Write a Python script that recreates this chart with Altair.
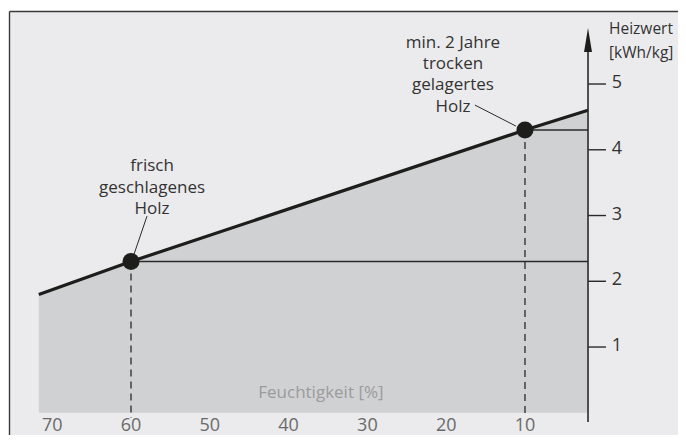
import altair as alt
import pandas as pd

# ---- data ----
moisture = [71.7, 60, 10, 2]          # Feuchtigkeit [%]
heat = [1.8, 2.3, 4.3, 4.6]           # Heizwert [kWh/kg]
marked_x = [60, 10]
marked_y = [2.3, 4.3]
x_ticks = [70, 60, 50, 40, 30, 20, 10]
y_ticks = [1, 2, 3, 4, 5]
axis_x = 2

ann1_lines = ["frisch", "geschlagenes", "Holz"]
ann1_y = [3.75, 3.42, 3.10]
ann1_x = 57.33
ann2_lines = ["min. 2 Jahre", "trocken", "gelagertes", "Holz"]
ann2_y = [5.62, 5.30, 4.98, 4.65]
ann2_x = 19.14
leader_x = [57.97, 16.35]
leader_y = [2.99, 4.68]
leader_x2 = [59.62, 11.14]
leader_y2 = [2.41, 4.36]
yunit_lines = ["Heizwert", "[kWh/kg]"]
yunit_y = [5.837, 5.472]

FONT = "Open Sans"
DARK = "#1d1d1b"
W, H = 668.5, 423.5

xs = alt.Scale(domain=[-9.42, 75.42], reverse=True, nice=False, zero=False)
ys = alt.Scale(domain=[-0.338, 6.103], nice=False, zero=False)


def X(f):
    return alt.X(f, type="quantitative", scale=xs, axis=None)


def Y(f):
    return alt.Y(f, type="quantitative", scale=ys, axis=None)


curve = pd.DataFrame({"m": moisture, "h": heat})
marks = pd.DataFrame({"m": marked_x, "h": marked_y, "ax": [axis_x] * 2, "bottom": [-0.08] * 2})

area = alt.Chart(curve).mark_area(color="#d0d1d3", orient="vertical").encode(
    x=X("m"), y=Y("h"), y2=alt.datum(0)
)
line = alt.Chart(curve).mark_line(color=DARK, strokeWidth=3.2).encode(x=X("m"), y=Y("h"))

hrules = alt.Chart(marks).mark_rule(color="#2a2a2a", strokeWidth=1.6).encode(
    x=X("m"), x2="ax", y=Y("h")
)
vdash = alt.Chart(marks).mark_rule(color="#2a2a2a", strokeWidth=1.3, strokeDash=[7, 5]).encode(
    x=X("m"), y=Y("h"), y2="bottom"
)
dots = alt.Chart(marks).mark_circle(size=290, color=DARK, opacity=1).encode(x=X("m"), y=Y("h"))

axis_df = pd.DataFrame({"x": [axis_x], "y": [-0.141], "y2": [5.59], "ya": [5.669]})
yaxis = alt.Chart(axis_df).mark_rule(color="#2a2a2a", strokeWidth=1.6).encode(
    x=X("x"), y=Y("y"), y2="y2"
)
arrow = alt.Chart(axis_df).mark_point(
    shape="M0,-1L0.33,1L-0.33,1Z", filled=True, size=576, color=DARK, opacity=1, strokeWidth=0
).encode(x=X("x"), y=Y("ya"))

yt = pd.DataFrame({"v": y_ticks, "x0": [axis_x] * 5, "x1": [-0.28] * 5, "xl": [-1.0] * 5,
                   "t": [str(v) for v in y_ticks]})
ytick_rules = alt.Chart(yt).mark_rule(color="#2a2a2a", strokeWidth=1.4).encode(
    x=X("x0"), x2="x1", y=Y("v")
)
ytick_labels = alt.Chart(yt).mark_text(
    font=FONT, fontSize=18, color="#333333", align="left", baseline="middle", dy=-1
).encode(x=X("xl"), y=Y("v"), text="t:N")

yunit = alt.Chart(pd.DataFrame({"t": yunit_lines, "y": yunit_y, "x": [-0.67] * 2})).mark_text(
    font=FONT, fontSize=15.5, color="#333333", align="left", baseline="middle"
).encode(x=X("x"), y=Y("y"), text="t:N")

xt = pd.DataFrame({"v": x_ticks, "y": [-0.338] * len(x_ticks), "t": [str(v) for v in x_ticks]})
xtick_labels = alt.Chart(xt).mark_text(
    font=FONT, fontSize=18, color="#6a6a6a", align="center", baseline="bottom", dy=0
).encode(x=X("v"), y=Y("y"), text="t:N")

xtitle = alt.Chart(pd.DataFrame({"t": ["Feuchtigkeit [%]"], "x": [35.9], "y": [0.30]})).mark_text(
    font=FONT, fontSize=17, color="#9b9b9b", align="center", baseline="middle"
).encode(x=X("x"), y=Y("y"), text="t:N")

ann_df = pd.DataFrame({
    "t": ann1_lines + ann2_lines,
    "x": [ann1_x] * len(ann1_lines) + [ann2_x] * len(ann2_lines),
    "y": ann1_y + ann2_y,
})
ann = alt.Chart(ann_df).mark_text(
    font=FONT, fontSize=17, color="#333333", align="center", baseline="middle"
).encode(x=X("x"), y=Y("y"), text="t:N")

lead_df = pd.DataFrame({"x": leader_x, "y": leader_y, "x2": leader_x2, "y2": leader_y2})
leaders = alt.Chart(lead_df).mark_rule(color="#2a2a2a", strokeWidth=1).encode(
    x=X("x"), y=Y("y"), x2="x2", y2="y2"
)

frame_top = alt.Chart(axis_df).mark_rule(color="#3a3a3a", strokeWidth=1.4).encode(
    x=alt.value(0), x2=alt.value(W), y=alt.value(0)
)
frame_left = alt.Chart(axis_df).mark_rule(color="#3a3a3a", strokeWidth=1.4).encode(
    x=alt.value(0), y=alt.value(0), y2=alt.value(H)
)

chart = alt.layer(
    area, line, hrules, vdash, dots, yaxis, arrow, ytick_rules, ytick_labels, yunit,
    xtick_labels, xtitle, ann, leaders, frame_top, frame_left
).properties(
    width=W, height=H,
    autosize=alt.AutoSizeParams(type="none"),
    padding={"left": 1.5, "top": 3.5, "right": 0, "bottom": 0},
    background="white",
).configure_view(fill="#ebebed", strokeWidth=0)

chart.save("out.html", embed_options={"renderer": "svg", "actions": False})
